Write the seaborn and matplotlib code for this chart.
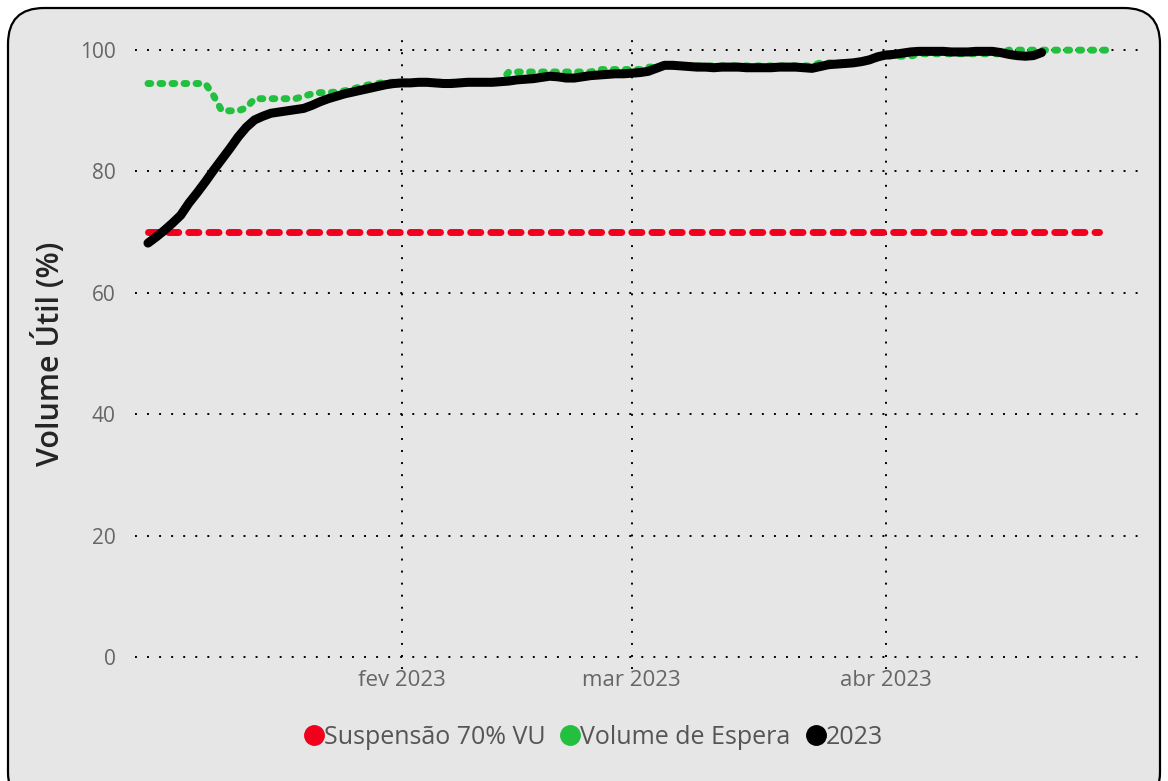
import matplotlib
matplotlib.use("Agg")
import matplotlib.pyplot as plt
from matplotlib.patches import FancyBboxPatch
from matplotlib.lines import Line2D
import seaborn as sns
import pandas as pd

# ---------------- data ----------------
start_date = "2023-01-01"

# Suspensão 70% VU (constant reference line)
susp_dates = ["2023-01-01", "2023-04-27"]
susp_values = [70.0, 70.0]

# Volume de Espera (daily, from 2023-01-01)
espera_values = [
    94.5, 94.5, 94.5, 94.5, 94.5, 94.5, 94.5, 94.5,
    92.5, 90.0, 90.0, 90.0, 90.5,
    92.0, 92.0, 92.0, 92.0, 92.0, 92.0,
    92.4, 92.8, 93.0, 93.0, 93.1, 93.3, 93.6, 94.0, 94.3, 94.5,
    94.7, 94.7, 94.7, 94.7, 94.7, 94.7, 94.7, 94.7, 94.7, 94.7,
    94.7, 94.7, 94.7, 94.7, 94.7,
    96.4, 96.4, 96.4, 96.4, 96.4, 96.4, 96.4, 96.4, 96.4, 96.4, 96.4,
    96.8, 96.8, 96.8, 96.8, 96.8, 96.8,
    97.2, 97.2,
    97.4, 97.4, 97.4, 97.4, 97.4, 97.4, 97.4, 97.4, 97.4, 97.4,
    97.4, 97.4, 97.4, 97.4, 97.4, 97.4, 97.4, 97.4, 97.4,
    97.9, 97.9, 97.9, 97.9, 97.9, 97.9,
    98.3, 98.7,
    99.0, 99.0, 99.0, 99.0,
    99.4, 99.4, 99.4, 99.4, 99.4, 99.4, 99.4, 99.4, 99.4, 99.4, 99.4,
    100.0, 100.0, 100.0, 100.0, 100.0, 100.0, 100.0, 100.0, 100.0,
    100.0, 100.0, 100.0, 100.0,
]

# 2023 observed volume (daily, from 2023-01-01)
vol_2023_values = [
    68.2, 69.2, 70.3, 71.5, 72.8, 74.8, 76.5, 78.3, 80.2, 82.0,
    83.8, 85.7, 87.3, 88.5, 89.1, 89.6, 89.8, 90.0, 90.2, 90.4,
    90.9, 91.5, 92.0, 92.4, 92.8, 93.1, 93.4, 93.7, 94.0, 94.3,
    94.5, 94.6, 94.6, 94.7, 94.7, 94.6, 94.5, 94.5, 94.6, 94.7,
    94.7, 94.7, 94.7, 94.8, 94.9, 95.1, 95.2, 95.3, 95.5, 95.7,
    95.6, 95.4, 95.4, 95.6, 95.8, 95.9, 96.0, 96.1, 96.1, 96.2,
    96.3, 96.5, 97.0, 97.5, 97.5, 97.4, 97.3, 97.2, 97.2, 97.1,
    97.2, 97.2, 97.2, 97.1, 97.1, 97.1, 97.1, 97.2, 97.2, 97.2,
    97.1, 97.0, 97.3, 97.6, 97.7, 97.8, 97.9, 98.1, 98.4, 98.9,
    99.2, 99.3, 99.5, 99.7, 99.8, 99.8, 99.8, 99.8, 99.7, 99.7,
    99.7, 99.8, 99.8, 99.8, 99.6, 99.3, 99.1, 99.0, 99.1, 99.6,
]

y_ticks = [0, 20, 40, 60, 80, 100]
x_tick_dates = ["2023-02-01", "2023-03-01", "2023-04-01"]
x_tick_labels = ["fev 2023", "mar 2023", "abr 2023"]
legend_labels = ["Suspensão 70% VU", "Volume de Espera", "2023"]
y_label = "Volume Útil (%)"

# ---------------- style ----------------
RED = "#f0001c"
GREEN = "#22c03e"
BLACK = "#000000"
BG = "#e6e6e6"
TICK_COLOR = "#666666"

sns.set_style("white")
plt.rcParams["font.family"] = ["Open Sans", "DejaVu Sans"]

fig = plt.figure(figsize=(11.68, 7.81), dpi=100)
fig.patch.set_facecolor("white")

# background frame in pixel coordinates
bg = fig.add_axes([0, 0, 1, 1], zorder=0)
bg.set_xlim(0, 1168)
bg.set_ylim(781, 0)
bg.axis("off")
frame = FancyBboxPatch((8, 8), 1152, 800,
                       boxstyle="round,pad=0,rounding_size=36",
                       facecolor=BG, edgecolor="black", linewidth=1.6)
bg.add_patch(frame)

ax = fig.add_axes([135 / 1168, 1 - 669 / 781, 1005 / 1168, 631 / 781], zorder=1)
ax.set_facecolor("none")

d_susp = pd.DataFrame({"date": pd.to_datetime(susp_dates), "v": susp_values})
d_esp = pd.DataFrame({"date": pd.date_range(start_date, periods=len(espera_values), freq="D"),
                      "v": espera_values})
d_vol = pd.DataFrame({"date": pd.date_range(start_date, periods=len(vol_2023_values), freq="D"),
                      "v": vol_2023_values})

sns.lineplot(data=d_susp, x="date", y="v", ax=ax, color=RED, linewidth=5.0)
l_red = ax.lines[-1]
l_red.set_linestyle((0, (1.45, 1.45)))
l_red.set_dash_capstyle("round")

sns.lineplot(data=d_esp, x="date", y="v", ax=ax, color=GREEN, linewidth=5.0)
l_green = ax.lines[-1]
l_green.set_linestyle((0, (0.4, 1.33)))
l_green.set_dash_capstyle("round")

sns.lineplot(data=d_vol, x="date", y="v", ax=ax, color=BLACK, linewidth=6.5)
l_blk = ax.lines[-1]
l_blk.set_solid_capstyle("round")
l_blk.set_solid_joinstyle("round")

for ln in ax.lines:
    ln.set_clip_on(False)

x0 = pd.Timestamp(start_date)
ax.set_xlim(x0 - pd.Timedelta(hours=38), x0 + pd.Timedelta(days=121))
ax.set_ylim(-2, 102)

ax.set_yticks(y_ticks)
ax.set_yticklabels([str(t) for t in y_ticks])
ax.set_xticks(pd.to_datetime(x_tick_dates))
ax.set_xticklabels(x_tick_labels)

ax.tick_params(axis="y", length=0, pad=14, labelsize=15, labelcolor=TICK_COLOR)
ax.tick_params(axis="x", length=0, pad=1, labelsize=16, labelcolor=TICK_COLOR)

ax.grid(True, axis="both", color="black", linewidth=1.4, linestyle=(0, (1, 5.2)))
ax.set_axisbelow(True)
for s in ax.spines.values():
    s.set_visible(False)

ax.set_xlabel("")
ax.set_ylabel(y_label, fontsize=22, color="#252423", fontweight="semibold", labelpad=10)

handles = [Line2D([0], [0], marker="o", linestyle="none", markersize=14,
                  markerfacecolor=c, markeredgecolor=c) for c in (RED, GREEN, BLACK)]
fig.legend(handles, legend_labels, loc="center", bbox_to_anchor=(0.507, 1 - 737 / 781),
           ncol=3, frameon=False, fontsize=18, handletextpad=-0.1, columnspacing=0.5,
           handlelength=1.0, labelcolor="#555555")

fig.savefig("out.png", dpi=100)
